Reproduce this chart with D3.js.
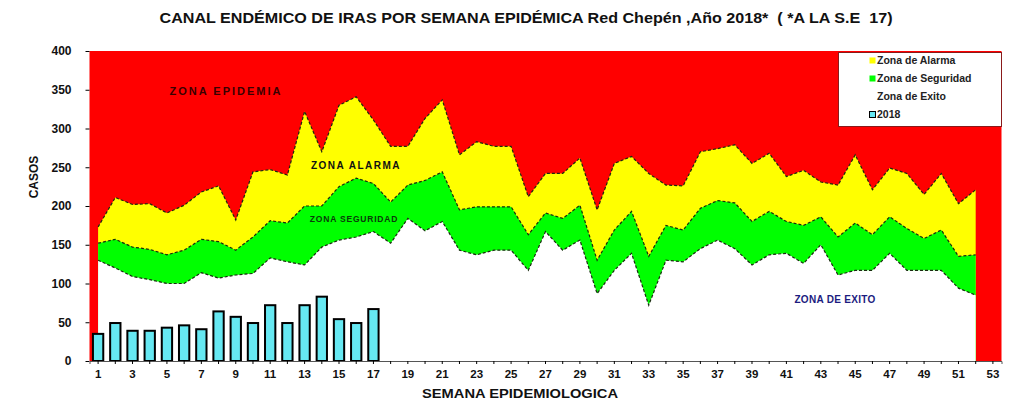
<!DOCTYPE html>
<html>
<head>
<meta charset="utf-8">
<script src="https://cdn.jsdelivr.net/npm/d3@7"></script>
<style>
  body { margin: 0; background: #fff; }
  svg { font-family: "Liberation Sans", Arial, sans-serif; }
</style>
</head>
<body>
<div id="chart"></div>
<script>
// semanas epidemiologicas
const weeks = [1,2,3,4,5,6,7,8,9,10,11,12,13,14,15,16,17,18,19,20,21,22,23,24,25,26,
    27,28,29,30,31,32,33,34,35,36,37,38,39,40,41,42,43,44,45,46,47,48,49,50,51,52,53]
const tickWeeks = [1,3,5,7,9,11,13,15,17,19,21,23,25,27,29,31,33,35,37,39,41,43,45,47,49,51,53]
const yTicks = [0,50,100,150,200,250,300,350,400]

// limites superiores de cada zona (semanas 1-52)
const zonaAlarma = [173,211,202,203,191,201,218,226,182,244,247,240,322,270,330,341,311,277,277,313,
    337,266,283,277,277,212,242,242,262,195,255,264,242,227,226,270,274,279,255,268,
    238,246,231,227,266,221,249,242,215,242,203,221]
const zonaSeguridad = [152,157,147,144,137,143,157,154,143,160,181,178,200,200,225,236,229,205,227,233,
    244,195,199,199,199,163,191,184,201,130,169,193,135,175,169,197,207,204,180,193,
    180,175,186,160,178,163,186,171,158,169,135,137]
const zonaExito = [130,120,109,105,100,100,114,107,111,113,133,128,124,147,156,160,167,152,184,168,
    180,143,137,143,143,117,167,143,156,87,117,139,72,130,128,145,156,145,124,137,
    139,126,150,111,117,117,139,117,117,117,94,85]

// casos 2018 (hasta la S.E. 17)
const casos2018 = [35,49,39,39,43,46,41,64,57,49,72,49,72,83,54,49,67]

const legendItems = ["Zona de Alarma", "Zona de Seguridad", "Zona de Exito", "2018"]
const legendColors = ["#ffff00", "#00ff00", "#ffffff", "#66e8f2"]

let width = 1017, height = 408
let plot = {left: 89.5, right: 1001.5, top: 51, bottom: 361}

let svg = d3.select("#chart").append("svg")
    .attr("width", width)
    .attr("height", height)

let x = d3.scaleBand().domain(weeks).range([plot.left, plot.right]).padding(0)
let y = d3.scaleLinear().domain([0, 400]).range([plot.bottom, plot.top])
let cx = function (w) { return x(w) + x.bandwidth() / 2 }

let zonas = zonaExito.map(function (d, i) {
    return {week: weeks[i], exito: d, seguridad: zonaSeguridad[i], alarma: zonaAlarma[i]}
})

// zona epidemica = fondo rojo
svg.append("rect")
    .attr("x", plot.left)
    .attr("y", plot.top)
    .attr("width", plot.right - plot.left)
    .attr("height", plot.bottom - plot.top)
    .attr("fill", "#ff0000")

svg.append("path")
    .datum(zonas)
    .attr("fill", "#ffff00")
    .attr("d", d3.area()
        .x(function (d) { return cx(d.week) })
        .y0(y(0))
        .y1(function (d) { return y(d.alarma) }))

svg.append("path")
    .datum(zonas)
    .attr("fill", "#00ff00")
    .attr("d", d3.area()
        .x(function (d) { return cx(d.week) })
        .y0(y(0))
        .y1(function (d) { return y(d.seguridad) }))

svg.append("path")
    .datum(zonas)
    .attr("fill", "#ffffff")
    .attr("d", d3.area()
        .x(function (d) { return cx(d.week) })
        .y0(y(0))
        .y1(function (d) { return y(d.exito) }))

// lineas punteadas de los limites
;["alarma", "seguridad", "exito"].forEach(function (key) {
    svg.append("path")
        .datum(zonas)
        .attr("fill", "none")
        .attr("stroke", "#1a2a10")
        .attr("stroke-width", 1.2)
        .attr("stroke-dasharray", "3,2")
        .attr("d", d3.line()
            .x(function (d) { return cx(d.week) })
            .y(function (d) { return y(d[key]) }))
})

// barras 2018
let barW = x.bandwidth() * 0.6
svg.selectAll(".bar")
    .data(casos2018)
    .enter().append("rect")
    .attr("class", "bar")
    .attr("x", function (d, i) { return cx(weeks[i]) - barW / 2 })
    .attr("y", function (d) { return y(d) })
    .attr("width", barW)
    .attr("height", function (d) { return y(0) - y(d) })
    .attr("fill", "#66e8f2")
    .attr("stroke", "#000")
    .attr("stroke-width", 2)

// ejes
let yAxis = svg.append("g")
    .attr("transform", "translate(" + plot.left + ",0)")
    .call(d3.axisLeft(y).tickValues(yTicks).tickSize(4).tickPadding(14))
yAxis.select(".domain").remove()
yAxis.selectAll("text")
    .style("font-size", "12px")
    .style("font-weight", "bold")
    .attr("fill", "#111")

let xAxis = svg.append("g")
    .attr("transform", "translate(0," + plot.bottom + ")")
    .call(d3.axisBottom(x).tickSize(3).tickPadding(6)
        .tickFormat(function (d) { return tickWeeks.indexOf(d) >= 0 ? d : "" }))
xAxis.select(".domain").attr("stroke", "#555")
xAxis.selectAll("text")
    .style("font-size", "11.5px")
    .style("font-weight", "bold")
    .attr("fill", "#111")

svg.append("text")
    .attr("x", 526)
    .attr("y", 23)
    .attr("text-anchor", "middle")
    .attr("textLength", 733)
    .attr("lengthAdjust", "spacingAndGlyphs")
    .style("font-size", "14px")
    .style("font-weight", "bold")
    .style("white-space", "pre")
    .attr("fill", "#111")
    .text("CANAL ENDÉMICO DE IRAS POR SEMANA EPIDÉMICA Red Chepén ,Año 2018*  ( *A LA S.E  17)")

svg.append("text")
    .attr("transform", "translate(38,177) rotate(-90)")
    .attr("text-anchor", "middle")
    .style("font-size", "12px")
    .style("font-weight", "bold")
    .attr("fill", "#111")
    .text("CASOS")

svg.append("text")
    .attr("x", 520)
    .attr("y", 398)
    .attr("text-anchor", "middle")
    .attr("textLength", 196)
    .attr("lengthAdjust", "spacingAndGlyphs")
    .style("font-size", "13px")
    .style("font-weight", "bold")
    .attr("fill", "#111")
    .text("SEMANA EPIDEMIOLOGICA")

// rotulos de zonas
function zoneLabel(txt, px, py, size, color, spacing) {
    svg.append("text")
        .attr("x", px)
        .attr("y", py)
        .attr("text-anchor", "middle")
        .attr("dominant-baseline", "middle")
        .style("font-size", size + "px")
        .style("font-weight", "bold")
        .style("letter-spacing", spacing + "px")
        .attr("fill", color)
        .text(txt)
}
zoneLabel("ZONA EPIDEMIA", 226, 92, 11, "#3a0000", 2)
zoneLabel("ZONA  ALARMA", 356, 166, 10, "#111", 1.5)
zoneLabel("ZONA  SEGURIDAD", 354, 220, 8.5, "#0a3a0a", 0.8)
zoneLabel("ZONA  DE EXITO", 835, 300, 10, "#1c1c80", 0.3)

// leyenda
let legend = svg.append("g")
legend.append("rect")
    .attr("x", 838.5)
    .attr("y", 52.5)
    .attr("width", 163)
    .attr("height", 74)
    .attr("fill", "#fff")
    .attr("stroke", "#8a1a1a")
    .attr("stroke-width", 1)

legendItems.forEach(function (name, i) {
    let ly = 61 + i * 18
    legend.append("rect")
        .attr("x", 869.5)
        .attr("y", ly - 3.5)
        .attr("width", 6)
        .attr("height", 6)
        .attr("fill", legendColors[i])
        .attr("stroke", i === 3 ? "#000" : "none")
    legend.append("text")
        .attr("x", 877)
        .attr("y", ly)
        .attr("dominant-baseline", "middle")
        .style("font-size", "10.5px")
        .style("font-weight", "bold")
        .attr("fill", "#222")
        .text(name)
})
</script>
</body>
</html>
